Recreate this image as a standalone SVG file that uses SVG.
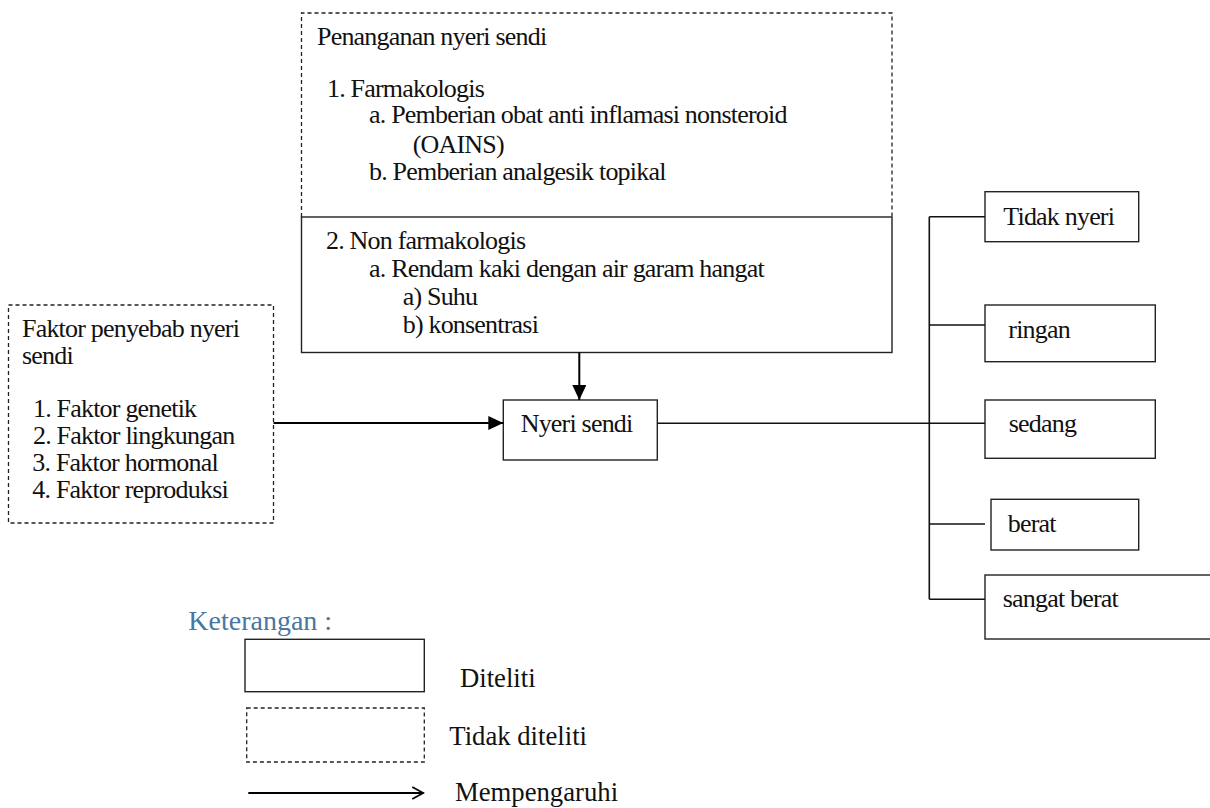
<svg xmlns="http://www.w3.org/2000/svg" width="1210" height="808" viewBox="0 0 1210 808">
<defs>
<style>
.t{font-family:'Liberation Serif','Times New Roman',serif;font-size:26px;letter-spacing:-0.8px;fill:#111;}
.leg{font-family:'Liberation Serif','Times New Roman',serif;font-size:26.7px;fill:#111;}
.ket{font-family:'Liberation Serif','Times New Roman',serif;font-size:28px;fill:#4a76a0;}
.solid{fill:#fff;stroke:#222;stroke-width:1.4;}
.dash{fill:none;stroke:#222;stroke-width:1.3;stroke-dasharray:4 3;}
.conn{fill:none;stroke:#111;stroke-width:1.6;}
.arr{fill:none;stroke:#000;stroke-width:2;}
</style>
<marker id="head" markerUnits="userSpaceOnUse" markerWidth="16" markerHeight="14" refX="15" refY="7" orient="auto">
<path d="M0,0 L15,7 L0,14 z" fill="#000"/>
</marker>
<marker id="open" markerUnits="userSpaceOnUse" markerWidth="14" markerHeight="14" refX="12" refY="7" orient="auto">
<path d="M1,1 L12,7 L1,13" fill="none" stroke="#000" stroke-width="1.8"/>
</marker>
</defs>
<rect width="1210" height="808" fill="#fff"/>

<g id="penanganan">
<path class="dash" d="M301.5,217 V13 H892 V217"/>
<rect class="solid" x="301.5" y="217" width="590.5" height="135.5"/>
<text class="t" x="317" y="45">Penanganan nyeri sendi</text>
<text class="t" x="327" y="96.7">1. Farmakologis</text>
<text class="t" x="369" y="123.3">a. Pemberian obat anti inflamasi nonsteroid</text>
<text class="t" x="412.7" y="153.3">(OAINS)</text>
<text class="t" x="369" y="180">b. Pemberian analgesik topikal</text>
<text class="t" x="326" y="249.3">2. Non farmakologis</text>
<text class="t" x="369" y="276.7">a. Rendam kaki dengan air garam hangat</text>
<text class="t" x="402.7" y="305">a) Suhu</text>
<text class="t" x="402.7" y="332.7">b) konsentrasi</text>
</g>

<g id="faktor">
<rect class="dash" x="8.5" y="305" width="265" height="218"/>
<text class="t" x="22" y="337.3">Faktor penyebab nyeri</text>
<text class="t" x="22" y="364">sendi</text>
<text class="t" x="33" y="417.3">1. Faktor genetik</text>
<text class="t" x="33" y="444">2. Faktor lingkungan</text>
<text class="t" x="32.3" y="470.5">3. Faktor hormonal</text>
<text class="t" x="32.3" y="498">4. Faktor reproduksi</text>
</g>

<g id="nyeri-sendi">
<rect class="solid" x="503.3" y="400" width="154" height="60"/>
<text class="t" x="520.7" y="432.3">Nyeri sendi</text>
</g>

<g id="tidak-nyeri">
<rect class="solid" x="985" y="191.7" width="153.7" height="50"/>
<text class="t" x="1003.3" y="225">Tidak nyeri</text>
</g>
<g id="ringan">
<rect class="solid" x="985" y="305" width="170.3" height="56.7"/>
<text class="t" x="1008.3" y="338.3">ringan</text>
</g>
<g id="sedang">
<rect class="solid" x="985" y="400" width="170.3" height="58.3"/>
<text class="t" x="1008.7" y="431.7">sedang</text>
</g>
<g id="berat">
<rect class="solid" x="991" y="499.3" width="147.7" height="50.7"/>
<text class="t" x="1007.7" y="531.7">berat</text>
</g>
<g id="sangat-berat">
<rect class="solid" x="985" y="575" width="240" height="64"/>
<text class="t" x="1002.7" y="607.3">sangat berat</text>
</g>

<g id="connectors">
<line class="arr" x1="273.5" y1="423" x2="503.3" y2="423" marker-end="url(#head)"/>
<line class="arr" x1="579.3" y1="352.5" x2="579.3" y2="400" marker-end="url(#head)"/>
<line class="conn" x1="657.3" y1="423.3" x2="985" y2="423.3"/>
<line class="conn" x1="929.3" y1="216.7" x2="929.3" y2="599.3"/>
<line class="conn" x1="929.3" y1="216.7" x2="985" y2="216.7"/>
<line class="conn" x1="929.3" y1="325" x2="985" y2="325"/>
<line class="conn" x1="929.3" y1="524" x2="985" y2="524"/>
<line class="conn" x1="929.3" y1="599.3" x2="985" y2="599.3"/>
</g>

<g id="legend">
<text class="ket" x="188.3" y="630">Keterangan :</text>
<rect class="solid" x="245" y="639.3" width="179.3" height="52.4"/>
<text class="leg" x="460" y="687">Diteliti</text>
<rect class="dash" x="246.7" y="708" width="177.6" height="54"/>
<text class="leg" x="449.3" y="745">Tidak diteliti</text>
<line class="arr" x1="248.3" y1="793" x2="423.3" y2="793" marker-end="url(#open)"/>
<text class="leg" x="455" y="801">Mempengaruhi</text>
</g>
</svg>
